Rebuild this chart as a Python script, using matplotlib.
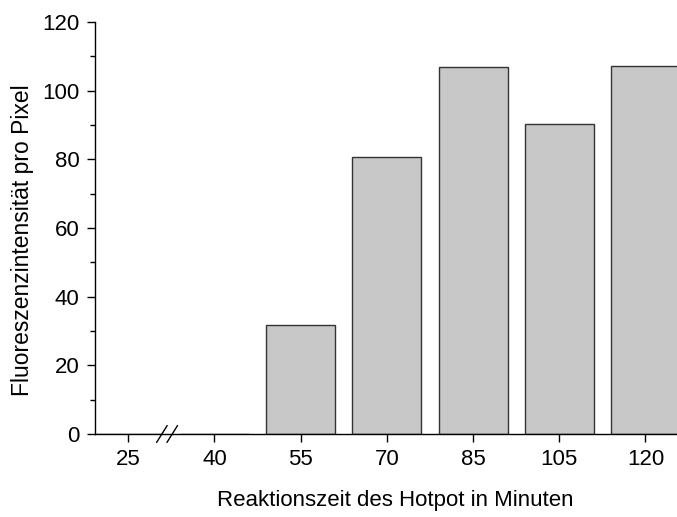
import matplotlib
matplotlib.use("Agg")
import matplotlib.pyplot as plt
from matplotlib.ticker import MultipleLocator
import numpy as np

# Reaction times (minutes) and mean fluorescence intensity per pixel
times = ["25", "40", "55", "70", "85", "105", "120"]
intensity = [0.0, 0.0, 31.7, 80.6, 107.0, 90.4, 107.3]

plt.rcParams["font.family"] = ["Liberation Sans", "DejaVu Sans"]

fig = plt.figure(figsize=(6.77, 5.17), dpi=100)
ax = fig.add_axes([95 / 677, 83 / 517, 582 / 677, 412 / 517])

x = np.arange(len(times))
ax.bar(x, intensity, width=0.8, color="#c8c8c8", edgecolor="#333333",
       linewidth=1.0, zorder=2)

ax.set_xlim(-0.386, 6.366)
ax.set_ylim(0, 120)
ax.set_xticks(x)
ax.set_xticklabels(times)
ax.yaxis.set_major_locator(MultipleLocator(20))
ax.yaxis.set_minor_locator(MultipleLocator(10))

for side in ("top", "right"):
    ax.spines[side].set_visible(False)
for side in ("left", "bottom"):
    ax.spines[side].set_linewidth(1.0)
    ax.spines[side].set_color("black")
    ax.spines[side].set_zorder(4)

ax.tick_params(axis="both", which="major", direction="out", length=6,
               width=1.0, labelsize=16, pad=5)
ax.tick_params(axis="y", which="minor", direction="out", length=3.5, width=1.0)

# Axis break marks between the first two categories
trans = ax.get_xaxis_transform()
for dx in (-0.06, 0.06):
    ax.plot([0.45 + dx - 0.06, 0.45 + dx + 0.06], [-0.02, 0.02],
            transform=trans, color="black", lw=1.0, clip_on=False, zorder=5)

ax.set_xlabel("Reaktionszeit des Hotpot in Minuten", fontsize=16)
ax.xaxis.set_label_coords(0.516, -0.135)
ax.set_ylabel("Fluoreszenzintensität pro Pixel", fontsize=16.5)
ax.yaxis.set_label_coords(-0.105, 0.471)

fig.savefig("out.png", dpi=100)
